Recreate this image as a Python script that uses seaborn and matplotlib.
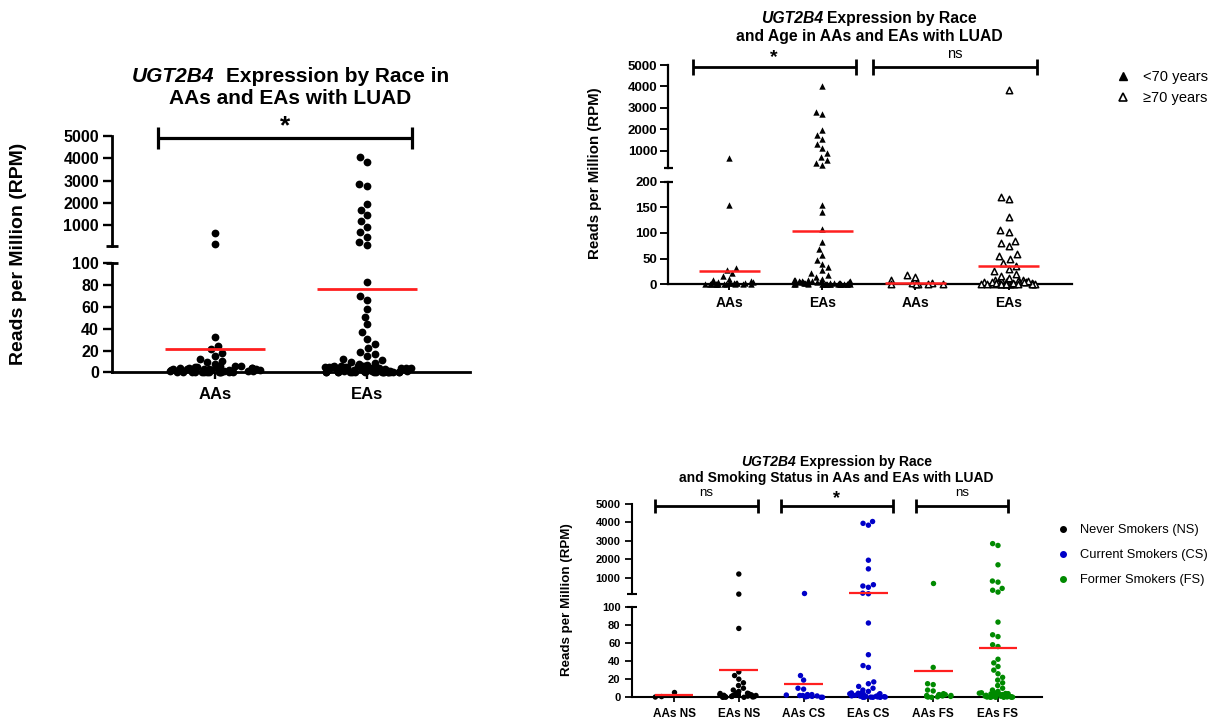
import warnings
warnings.filterwarnings("ignore")
import matplotlib
matplotlib.use("Agg")
import matplotlib.pyplot as plt
import matplotlib.transforms as mtransforms
from matplotlib.lines import Line2D
import numpy as np
import pandas as pd
import seaborn as sns

# ---------------- data ----------------
# Panel 1: expression by race
p1_cats = ["AAs", "EAs"]
p1_AAs = [680, 165, 32, 24, 21, 18, 15, 12.5, 10.5, 9, 7.5,
          6.0, 5.6, 5.2, 4.8, 4.4, 4.0, 3.6, 3.3, 3.0, 2.7, 2.4, 2.1, 1.8,
          1.5, 1.3, 1.1, 0.9, 0.7, 0.5, 0.4, 0.3, 0.2, 0.1, 0.0, 0.0,
          5.4, 4.6, 3.9, 3.1, 2.6, 2.0, 1.4, 1.0, 0.8, 0.6, 0.3, 0.1, 0.0, 0.0]
p1_EAs = [4050, 3850, 2850, 2750, 1950, 1700, 1450, 1200, 950, 720, 500, 280, 130,
          83, 70, 66, 58, 51, 44, 37, 31, 26, 22, 19, 16.5, 14.5, 12.5, 11, 9.5,
          8.5, 7.5, 6.5, 6.0, 5.8, 5.5, 5.2, 4.9, 4.6, 4.3, 4.0, 3.7, 3.4, 3.1, 2.8,
          2.5, 2.2, 1.9, 1.7, 1.5, 1.3, 1.1, 0.9, 0.7, 0.5, 0.4, 0.3, 0.2, 0.1,
          5.9, 5.3, 4.7, 4.1, 3.5, 2.9, 2.3, 1.6, 1.0, 0.6, 0.0, 0.0, 0.0,
          5.7, 5.1, 4.5, 3.9, 3.3, 2.7, 2.1, 1.8, 1.4, 1.2, 0.8, 0.5, 0.3, 0.2,
          0.1, 0.0, 0.0, 4.4, 3.6, 2.4, 1.5, 0.9, 0.4, 0.1, 0.0]
p1_means = [21, 76]
p1_sig = "*"

# Panel 2: expression by race and age
p2_keys = ["AAs <70", "EAs <70", "AAs >=70", "EAs >=70"]
p2_ticklabels = ["AAs", "EAs", "AAs", "EAs"]
p2_age = ["<70 years", "<70 years", "≥70 years", "≥70 years"]
p2_AAs_lt70 = [640, 155, 32, 28, 22, 16, 11, 8, 6, 5, 4, 3.5, 3, 2.5, 2, 1.5,
               1.2, 1, 0.8, 0.5, 0.3, 0.1, 0, 0, 4.5, 2.8, 1.6, 0.9, 0.4, 0]
p2_EAs_lt70 = [4000, 2800, 2700, 1950, 1750, 1550, 1300, 1100, 870, 700, 550, 400, 330,
               155, 141, 107, 82, 68, 57, 48, 40, 33, 27, 22, 18, 14, 11, 9, 7, 6, 5,
               4.5, 4, 3.5, 3, 2.5, 2, 1.8, 1.5, 1.2, 1, 0.8, 0.6, 0.4, 0.2, 0.1, 0, 0,
               8, 6.5, 5.5, 3.8, 2.8, 1.4, 0.7, 0.3, 7.5, 5.8, 4.2, 3.2, 2.2, 1.7,
               1.1, 0.5, 0.2, 0, 0]
p2_AAs_ge70 = [18, 15, 8, 3, 2, 1.5, 1, 0.5, 0.2, 0]
p2_EAs_ge70 = [3830, 170, 166, 132, 105, 102, 85, 80, 75, 60, 55, 50, 42, 36, 30, 25,
               20, 16, 12, 9, 7, 6, 5, 4.5, 4, 3.5, 3, 2.5, 2, 1.5, 1.2, 1, 0.8, 0.5,
               0.3, 0.1, 0, 0, 8, 6.5, 5.5, 3.8, 2.8, 1.4, 0.7, 7.5, 5.8, 4.2, 3.2,
               2.2, 1.7, 1.1, 0.5, 0.2, 0, 0]
p2_means = [25, 103, 3, 36]
p2_sig = ["*", "ns"]

# Panel 3: expression by race and smoking status
p3_cats = ["AAs NS", "EAs NS", "AAs CS", "EAs CS", "AAs FS", "EAs FS"]
p3_status = ["Never Smokers (NS)", "Never Smokers (NS)", "Current Smokers (CS)",
             "Current Smokers (CS)", "Former Smokers (FS)", "Former Smokers (FS)"]
p3_AAs_NS = [5.5, 0.8, 0.3]
p3_EAs_NS = [1200, 110, 76, 28, 24, 20, 16, 13, 10, 8, 6.5, 5, 4.5, 4, 3.5, 3, 2.5,
             2, 1.6, 1.3, 1, 0.7, 0.4, 0.2, 0, 4.2, 2.2, 1.1, 0.5, 3.8, 2.8, 1.8,
             0.9, 0.3, 0]
p3_AAs_CS = [150, 24, 19, 10, 9, 3, 3, 2.5, 2, 2, 1.5, 1, 1, 0.5, 0, 0]
p3_EAs_CS = [4050, 3950, 3850, 1950, 1480, 620, 550, 480, 160, 130, 82, 47, 35, 33,
             17, 15, 12, 10, 8, 6.5, 5, 4.5, 4, 3.5, 3, 2.5, 2, 1.6, 1.3, 1, 0.7, 0.4,
             0.2, 0, 4.2, 2.2, 1.1, 0.5, 4.8, 3.8, 2.8, 1.8, 1.2, 0.9, 0.3, 0.1, 0, 0]
p3_AAs_FS = [700, 33, 15, 14, 8, 7, 4, 3, 3, 2.5, 2, 2, 1.5, 1, 1, 0.5, 0.3, 0]
p3_EAs_FS = [2850, 2750, 1700, 820, 760, 420, 320, 220, 83, 69, 67, 58, 56, 42, 38,
             34, 30, 26, 22, 19, 16, 13, 10, 8, 6.5, 5, 4.5, 4, 3.5, 3, 2.5, 2, 1.6,
             1.3, 1, 0.7, 0.4, 0.2, 0, 4.2, 2.2, 1.1, 0.5, 4.8, 3.8, 2.8, 1.8, 1.2,
             0.9, 0.3, 0.1, 0, 0]
p3_means = [2, 30.5, 14.7, 171, 29.4, 54]
p3_sig = ["ns", "*", "ns"]

YLABEL = "Reads per Million (RPM)"

# ---------------- style ----------------
sns.set_style("ticks")
plt.rcParams["font.family"] = ["Liberation Sans", "DejaVu Sans"]
for k in ("text.color", "axes.labelcolor", "xtick.color", "ytick.color",
          "axes.edgecolor"):
    plt.rcParams[k] = "black"
RED = "#ff1f1f"
STATUS_COLORS = {"Never Smokers (NS)": "#000000",
                 "Current Smokers (CS)": "#0000c8",
                 "Former Smokers (FS)": "#008a00"}

W, H = 1212, 721
fig = plt.figure(figsize=(W / 100, H / 100), dpi=100)


def fx(px):
    return px / W


def fy(py):
    return 1 - py / H


def axes_px(left, right, top, bottom):
    return fig.add_axes([fx(left), fy(bottom), (right - left) / W, (bottom - top) / H])


def make_df(keys, lists):
    rows = []
    for k, vals in zip(keys, lists):
        for v in vals:
            rows.append((k, v))
    return pd.DataFrame(rows, columns=["cat", "val"])


def _finish(ax, n0):
    for c in ax.collections[n0:]:
        c.set_clip_on(False)
        c.set_zorder(3)


def swarm(ax, df, order, **kw):
    if len(df) == 0:
        return
    n0 = len(ax.collections)
    sns.swarmplot(data=df, x="cat", y="val", order=order, ax=ax, legend=False, **kw)
    _finish(ax, n0)


def strip(ax, df, order, jitter, seed, **kw):
    if len(df) == 0:
        return
    np.random.seed(seed)
    n0 = len(ax.collections)
    sns.stripplot(data=df, x="cat", y="val", order=order, ax=ax, legend=False,
                  jitter=jitter, **kw)
    _finish(ax, n0)


def lower_points(ax, df, order, band, jitter, seed, **kw):
    # dense band of near-zero values spread across the group, the rest as a swarm
    strip(ax, df[df.val <= band], order, jitter, seed, **kw)
    swarm(ax, df[df.val > band], order, **kw)


def style_pair(ax_up, ax_lo, xlim, ylim_up, ylim_lo, yt_up, yt_lo, ticklabels,
               lw, tlen, fs_tick, fs_cat, ypad, xpad, brk_px, ax_w_px):
    for ax, ylim, yt in ((ax_up, ylim_up, yt_up), (ax_lo, ylim_lo, yt_lo)):
        ax.set_xlabel("")
        ax.set_ylabel("")
        ax.set_xlim(xlim)
        ax.set_ylim(ylim)
        ax.set_yticks(yt, labels=[str(t) for t in yt], fontweight="bold", fontsize=fs_tick)
        ax.spines["top"].set_visible(False)
        ax.spines["right"].set_visible(False)
        ax.spines["left"].set_linewidth(lw)
        ax.spines["bottom"].set_linewidth(lw)
        ax.tick_params(axis="y", direction="out", length=tlen, width=lw * 0.85,
                       pad=ypad, colors="black")
        ax.patch.set_alpha(0)
    ax_up.spines["bottom"].set_visible(False)
    ax_up.set_xticks([])
    ax_lo.set_xticks(range(len(ticklabels)), labels=ticklabels,
                     fontweight="bold", fontsize=fs_cat)
    ax_lo.tick_params(axis="x", direction="out", length=tlen * 0.75, width=lw * 0.85,
                      pad=xpad, colors="black")
    d = brk_px / ax_w_px
    ax_up.plot([-d, d], [0, 0], transform=ax_up.transAxes, color="black", lw=lw,
               clip_on=False, solid_capstyle="butt")
    ax_lo.plot([-d, d], [1, 1], transform=ax_lo.transAxes, color="black", lw=lw,
               clip_on=False, solid_capstyle="butt")


def means(ax_up, ax_lo, vals, split, hw, lw):
    for i, m in enumerate(vals):
        ax = ax_lo if m <= split else ax_up
        ax.hlines(m, i - hw, i + hw, color=RED, lw=lw, zorder=6, clip_on=False)


def sig_bar(ax, x0, x1, y_px, tick_px, lw, label, lab_y_px, fs, weight):
    tr = mtransforms.blended_transform_factory(ax.transData, fig.transFigure)
    y = fy(y_px)
    t = tick_px / H
    ax.plot([x0, x1], [y, y], transform=tr, color="black", lw=lw, clip_on=False,
            solid_capstyle="butt")
    for xx in (x0, x1):
        ax.plot([xx, xx], [y - t, y + t], transform=tr, color="black", lw=lw,
                clip_on=False, solid_capstyle="butt")
    ax.text((x0 + x1) / 2, fy(lab_y_px), label, transform=tr, ha="center",
            va="center", fontsize=fs, fontweight=weight, color="black")


def mixed_line(xc_px, y_px, italic_part, rest, fs, gap_spaces):
    t1 = fig.text(0, 0, italic_part, fontsize=fs, fontweight="bold", fontstyle="italic",
                  ha="left", va="center")
    t2 = fig.text(0, 0, rest, fontsize=fs, fontweight="bold", ha="left", va="center")
    r = fig.canvas.get_renderer()
    w1 = t1.get_window_extent(r).width
    w2 = t2.get_window_extent(r).width
    gap = gap_spaces * 0.278 * fs * 100 / 72
    x = xc_px - (w1 + gap + w2) / 2
    t1.set_position((fx(x), fy(y_px)))
    t2.set_position((fx(x + w1 + gap), fy(y_px)))


def plain_line(xc_px, y_px, s, fs):
    fig.text(fx(xc_px), fy(y_px), s, fontsize=fs, fontweight="bold", ha="center",
             va="center")


# ================= Panel 1 =================
L1, R1 = 112.3, 470
a1_up = axes_px(L1, R1, 135.7, 245.7)
a1_lo = axes_px(L1, R1, 263.3, 372.3)
df1 = make_df(p1_cats, [p1_AAs, p1_EAs])
lower_points(a1_lo, df1[df1.val <= 100], p1_cats, 6.0, 0.31, 3, color="black", size=5.6)
swarm(a1_up, df1[df1.val > 100], p1_cats, color="black", size=5.6)
means(a1_up, a1_lo, p1_means, 100, 0.33, 2.0)
style_pair(a1_up, a1_lo, (-0.677, 1.681), (100, 5000), (0, 100),
           [1000, 2000, 3000, 4000, 5000], [0, 20, 40, 60, 80, 100], p1_cats,
           2.0, 6.5, 11.5, 12, 3, 6, 6, R1 - L1)
sig_bar(a1_up, -0.374, 1.297, 137.7, 11, 2.3, p1_sig, 126, 19, "bold")
mixed_line(290.5, 76, "UGT2B4", "Expression by Race in", 15, 2)
plain_line(290.5, 99, "AAs and EAs with LUAD", 15)
fig.text(fx(18.3), fy(254), YLABEL, rotation=90, ha="center", va="center",
         fontsize=14, fontweight="bold")

# ================= Panel 2 =================
L2, R2 = 668.3, 1072
a2_up = axes_px(L2, R2, 65, 167.7)
a2_lo = axes_px(L2, R2, 181.7, 284.3)
df2 = make_df(p2_keys, [p2_AAs_lt70, p2_EAs_lt70, p2_AAs_ge70, p2_EAs_ge70])
filled = df2[df2.cat.isin(p2_keys[:2])]
opened = df2[df2.cat.isin(p2_keys[2:])]
for sub, seed, kw in ((filled, 5, dict(color="black", marker="^", size=4.6)),
                      (opened, 7, dict(color="white", edgecolor="black", linewidth=1.1,
                                       marker="^", size=4.6))):
    lower_points(a2_lo, sub[sub.val <= 200], p2_keys, 9.0, 0.31, seed, **kw)
    swarm(a2_up, sub[sub.val > 200], p2_keys, **kw)
means(a2_up, a2_lo, p2_means, 200, 0.33, 1.8)
style_pair(a2_up, a2_lo, (-0.655, 3.681), (200, 5000), (0, 200),
           [1000, 2000, 3000, 4000, 5000], [0, 50, 100, 150, 200], p2_ticklabels,
           1.6, 6, 9.5, 10, 2, 4, 4.7, R2 - L2)
sig_bar(a2_up, -0.394, 1.360, 67.3, 8, 2.0, p2_sig[0], 58, 14, "bold")
sig_bar(a2_up, 1.547, 3.305, 67.3, 8, 2.0, p2_sig[1], 54.5, 10.5, "normal")
mixed_line(869, 18.3, "UGT2B4", "Expression by Race", 11.3, 1)
plain_line(869, 36, "and Age in AAs and EAs with LUAD", 11.3)
fig.text(fx(594.5), fy(173.5), YLABEL, rotation=90, ha="center", va="center",
         fontsize=10.8, fontweight="bold")
age_labels = list(dict.fromkeys(p2_age))
h2 = [Line2D([], [], marker="^", linestyle="none", color="black", markersize=5.5),
      Line2D([], [], marker="^", linestyle="none", markerfacecolor="white",
             markeredgecolor="black", markeredgewidth=1.2, markersize=5.5)]
a2_lo.legend(h2, age_labels, loc="upper left", bbox_to_anchor=(fx(1115.3), fy(69.9)),
             bbox_transform=fig.transFigure, frameon=False, fontsize=10.5,
             handlelength=1.0, handletextpad=0.87, labelspacing=0.52, borderpad=0,
             borderaxespad=0)

# ================= Panel 3 =================
L3, R3 = 631.7, 1041.6
a3_up = axes_px(L3, R3, 504, 594.3)
a3_lo = axes_px(L3, R3, 606.7, 697.3)
df3 = make_df(p3_cats, [p3_AAs_NS, p3_EAs_NS, p3_AAs_CS, p3_EAs_CS, p3_AAs_FS, p3_EAs_FS])
pal3 = {c: STATUS_COLORS[s] for c, s in zip(p3_cats, p3_status)}
kw3 = dict(hue="cat", hue_order=p3_cats, palette=pal3, size=3.9)
lower_points(a3_lo, df3[df3.val <= 100], p3_cats, 5.0, 0.3, 11, **kw3)
swarm(a3_up, df3[df3.val > 100], p3_cats, **kw3)
means(a3_up, a3_lo, p3_means, 100, 0.3, 1.6)
style_pair(a3_up, a3_lo, (-0.653, 5.673), (100, 5000), (0, 100),
           [1000, 2000, 3000, 4000, 5000], [0, 20, 40, 60, 80, 100], p3_cats,
           1.5, 5, 8, 8.5, 3, 4, 5, R3 - L3)
sig_bar(a3_up, -0.298, 1.289, 505.7, 7, 2.0, p3_sig[0], 493.3, 9.5, "normal")
sig_bar(a3_up, 1.645, 3.380, 505.7, 7, 2.0, p3_sig[1], 498.5, 13, "bold")
sig_bar(a3_up, 3.730, 5.154, 505.7, 7, 2.0, p3_sig[2], 493.3, 9.5, "normal")
mixed_line(836.2, 462.3, "UGT2B4", "Expression by Race", 10, 1)
plain_line(836.2, 478.3, "and Smoking Status in AAs and EAs with LUAD", 10)
fig.text(fx(567.4), fy(600), YLABEL, rotation=90, ha="center", va="center",
         fontsize=9.6, fontweight="bold")
status_labels = list(dict.fromkeys(p3_status))
h3 = [Line2D([], [], marker="o", linestyle="none", color=STATUS_COLORS[s], markersize=4)
      for s in status_labels]
a3_lo.legend(h3, status_labels, loc="upper left", bbox_to_anchor=(fx(1056.4), fy(524.1)),
             bbox_transform=fig.transFigure, frameon=False, fontsize=9.3,
             handlelength=1.0, handletextpad=0.8, labelspacing=1.0, borderpad=0,
             borderaxespad=0)

fig.savefig("out.png", dpi=100)
